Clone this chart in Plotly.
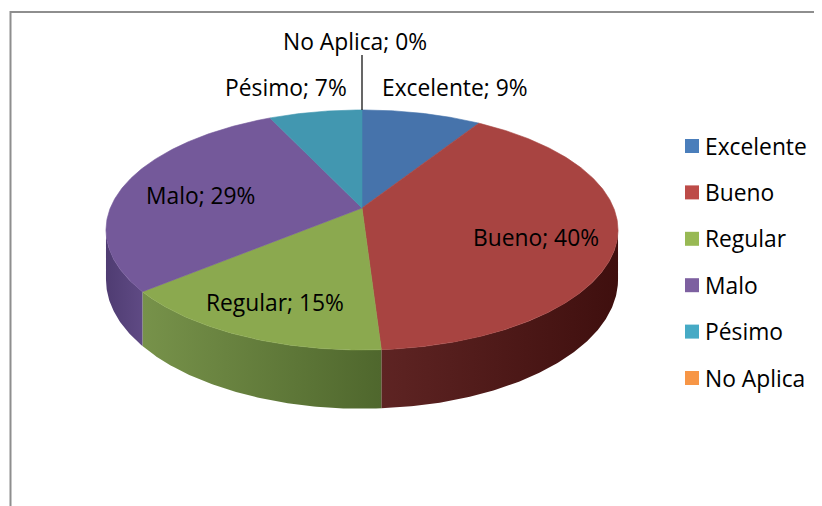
import numpy as np
import plotly.graph_objects as go

# ---------------- data ----------------
categories = ["Excelente", "Bueno", "Regular", "Malo", "Pésimo", "No Aplica"]
values = [9, 40, 15, 29, 7, 0]

# ---------------- styles ----------------
top_colors = ["#4673ab", "#a84441", "#8ba94f", "#74599a", "#4297b0", "#e8893a"]
legend_colors = ["#4a7ebb", "#bd4b48", "#98b954", "#7d60a0", "#46aac5", "#f79646"]
wall_colors = [("#2f5280", "#223c60"), ("#5e2423", "#3f0f0e"), ("#77924a", "#4f672d"),
               ("#4f3c72", "#5f4a84"), ("#2b6c80", "#22586a"), ("#a8602a", "#8a4c20")]

FONT = "Open Sans"
FSIZE = 22.8
W, H = 822, 506
OFF = 8   # page body margin in the browser

# pie geometry (pixels in the plot's own axis space)
CX, CY = 362.0, 208.0
R, RV = 251.7, 116.0
P = 0.183           # perspective factor
DEPTH = 48.0        # thickness of the pie
SIL = np.degrees(np.arccos(-P))   # silhouette angle (front visible side)

# label anchors (layout)
label_pos = {
    "Excelente": (455, 87), "Bueno": (536, 237), "Regular": (275, 302),
    "Malo": (200, 195), "Pésimo": (286, 87), "No Aplica": (355, 41),
}
LEG_X, LEG_Y0, LEG_DY = 692, 146, 46.4


def proj(theta_deg, drop=0.0):
    t = np.radians(theta_deg)
    X, Z = np.sin(t), np.cos(t)
    d = 1 + P * Z
    return CX + R * X / d, CY - RV * Z / d + drop / d


fig = go.Figure()

total = float(sum(values))
angles = np.concatenate([[0], np.cumsum(values) / total * 360.0])

# side walls (front)
for i, cat in enumerate(categories):
    a0, a1 = angles[i], angles[i + 1]
    lo, hi = max(a0, SIL), min(a1, 360 - SIL)
    if hi - lo <= 0:
        continue
    th = np.linspace(lo, hi, max(int((hi - lo) * 2), 4))
    xt, yt = proj(th)
    xb, yb = proj(th[::-1], DEPTH)
    xs = np.concatenate([xt, xb, xt[:1]])
    ys = np.concatenate([yt, yb, yt[:1]])
    c0, c1 = wall_colors[i]
    fig.add_trace(go.Scatter(
        x=xs, y=ys, mode="lines", fill="toself", line=dict(width=0),
        fillgradient=dict(type="horizontal", colorscale=[[0, c0], [1, c1]]),
        hoverinfo="skip", showlegend=False))

# top faces
for i, cat in enumerate(categories):
    a0, a1 = angles[i], angles[i + 1]
    if a1 - a0 <= 0:
        continue
    th = np.linspace(a0, a1, max(int((a1 - a0) * 2), 4))
    xa, ya = proj(th)
    xs = np.concatenate([[CX], xa, [CX]])
    ys = np.concatenate([[CY], ya, [CY]])
    fig.add_trace(go.Scatter(
        x=xs, y=ys, mode="lines", fill="toself",
        fillcolor=top_colors[i], line=dict(width=0.6, color=top_colors[i]),
        hoverinfo="skip", showlegend=False))

# data labels
for i, cat in enumerate(categories):
    lx, ly = label_pos[cat]
    fig.add_annotation(x=lx, y=ly, text=f"{cat}; {values[i]}%", showarrow=False,
                       font=dict(family=FONT, size=FSIZE, color="#000000"),
                       xanchor="center", yanchor="middle")
    if values[i] == 0:
        px, py = proj(angles[i])
        fig.add_trace(go.Scatter(x=[px, px], y=[ly + 14, py], mode="lines",
                                 line=dict(color="#000000", width=1.2),
                                 hoverinfo="skip", showlegend=False))

# legend
leg_y = [LEG_Y0 + k * LEG_DY for k in range(len(categories))]
fig.add_trace(go.Scatter(
    x=[LEG_X] * len(categories), y=leg_y, mode="markers",
    marker=dict(symbol="square", size=14, color=legend_colors, line=dict(width=0)),
    hoverinfo="skip", showlegend=False))
for k, cat in enumerate(categories):
    fig.add_annotation(x=LEG_X + 11, y=leg_y[k], text=cat, showarrow=False,
                       font=dict(family=FONT, size=FSIZE, color="#000000"),
                       xanchor="left", yanchor="middle")

# chart border
fig.add_shape(type="rect", x0=10.5, y0=12, x1=W + 30, y1=H + 30,
              line=dict(color="#8e8e8e", width=2), fillcolor="rgba(0,0,0,0)", layer="below")

fig.update_layout(
    width=W, height=H, margin=dict(l=0, r=0, t=0, b=0),
    paper_bgcolor="white", plot_bgcolor="white",
    xaxis=dict(range=[OFF, W + OFF], visible=False, fixedrange=True),
    yaxis=dict(range=[H + OFF, OFF], visible=False, fixedrange=True),
    showlegend=False,
)

fig.write_html("out.html")
